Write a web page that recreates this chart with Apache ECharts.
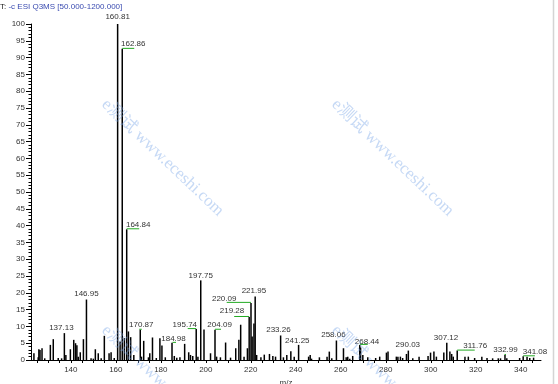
<!DOCTYPE html>
<html><head><meta charset="utf-8">
<script src="https://cdn.jsdelivr.net/npm/echarts@6/dist/echarts.min.js"></script>
<style>html,body{margin:0;padding:0;background:#fff}#c{width:558px;height:384px}</style>
</head><body><div id="c"></div>
<script>
// ---- data ----
const scanTitlePrefix = 'T:';
const scanTitle = '-c ESI Q3MS [50.000-1200.000]';
const xAxisName = 'm/z';
const yAxisName = 'Relative Abundance';
const xTickLabels = [140, 160, 180, 200, 220, 240, 260, 280, 300, 320, 340];
const yTickLabels = [0, 5, 10, 15, 20, 25, 30, 35, 40, 45, 50, 55, 60, 65, 70, 75, 80, 85, 90, 95, 100];

const minorMz = [123.6,125.5,125.8,126.3,127.2,128.4,130.9,132.2,134.4,135.9,137.8,139.8,141.3,142.1,142.7,143.3,144.2,145.6,149.0,150.0,150.9,152.2,153.5,154.9,157.0,157.9,159.3,161.9,163.8,165.6,166.6,168.0,171.4,172.4,174.5,175.1,176.3,178.0,179.6,180.5,182.0,186.0,187.1,188.5,190.6,192.4,193.2,194.2,196.5,199.2,202.1,204.8,206.5,208.8,211.0,213.3,214.7,215.5,217.0,218.5,220.6,221.4,222.6,224.5,226.0,228.3,229.8,231.0,234.5,236.0,237.8,239.3,245.7,246.4,247.0,250.5,253.9,254.9,256.0,261.2,262.4,263.1,264.0,265.3,268.8,269.8,272.0,275.5,277.3,280.3,281.0,284.7,285.4,286.5,287.5,289.2,292.0,294.8,298.8,299.9,301.4,302.5,305.8,308.5,309.3,310.0,315.2,316.7,319.5,322.7,325.0,327.5,330.0,331.0,333.8,339.5,342.8,344.0,345.7];
const minorAbundance = [2.0,0.8,3.2,3.0,3.5,0.5,4.5,6.2,0.6,0.5,1.5,3.2,6.0,5.0,4.4,1.0,2.3,6.2,0.5,0.4,3.2,2.0,0.5,7.2,2.0,2.3,0.6,5.5,6.5,8.5,6.8,1.5,1.0,5.7,0.8,2.0,6.7,0.6,6.5,4.3,0.8,1.2,0.7,0.8,4.8,2.3,1.5,1.2,1.0,9.1,2.0,1.0,0.8,5.2,0.7,3.5,6.0,10.5,1.0,3.5,7.0,10.9,1.5,0.8,1.6,1.8,1.2,1.0,0.8,1.5,2.6,1.0,1.0,1.5,0.4,0.8,1.0,2.5,0.5,3.5,0.8,1.0,0.4,1.2,3.7,1.5,0.8,0.6,1.0,2.2,2.5,1.0,1.0,1.0,0.6,1.8,0.5,1.0,1.2,2.2,2.5,1.0,2.2,2.5,1.8,1.0,1.0,1.0,0.6,1.0,0.6,0.5,0.5,0.5,0.5,0.6,1.0,0.6,0.7];

const labeledMz = [137.13,146.95,160.81,162.86,164.84,170.87,184.98,195.74,197.75,204.09,219.28,220.09,221.95,233.26,241.25,258.06,268.44,290.03,307.12,311.76,332.99,341.08];
const labeledAbundance = [8.0,18.0,100,92.6,38.9,9.0,5.1,9.2,23.7,9.0,12.8,17.0,18.9,7.3,4.5,5.8,4.5,2.8,5.1,2.8,1.5,1.1];

// ---- label placement (style only): [dx of label centre, height of label centre above peak top, leader start, leader end] in px
const labelPlacement = {
  '137.13':[-3,5.5,0,0], '146.95':[0,5.5,0,0], '160.81':[0,7.5,0,0], '162.86':[11,5,0,12],
  '164.84':[11.5,4.5,0,12.5], '170.87':[1,4.5,-1,1.5], '184.98':[1.5,4,0.5,4], '195.74':[-11.4,4.5,-8.5,0],
  '197.75':[0,4.7,0,0], '204.09':[4.6,4.5,0,6], '219.28':[-17.2,6,-15,0], '220.09':[-26.8,4,-24.3,0],
  '221.95':[-1.3,5.5,0,0], '233.26':[-2.2,5.8,0,0], '241.25':[-1.3,4.3,0,0], '258.06':[-3,5.3,0,0],
  '268.44':[7.2,3.5,0,8], '290.03':[-0.5,5.5,0,0], '307.12':[-0.8,5.5,0,0], '311.76':[18,5,0,17.5],
  '332.99':[0.5,5,-0.5,1], '341.08':[11.8,4.3,0,11.7]
};

const minorTickValues = [];
for (let t = 125; t <= 345; t += 5) minorTickValues.push(t);

const peaks = minorMz.map((m, i) => [m, minorAbundance[i]])
  .concat(labeledMz.map((m, i) => [m, labeledAbundance[i]]));

const FONT = '"Liberation Sans", Arial, sans-serif';
const chart = echarts.init(document.getElementById('c'), null, {renderer: 'canvas'});
const wmOrigins = [[104,102],[334,102],[104,328],[334,328]];

chart.setOption({
  animation: false,
  title: {
    text: '{a|' + scanTitlePrefix + ' }{b|' + scanTitle + '}',
    left: 0, top: 1, padding: 0,
    textStyle: {
      fontWeight: 'normal', fontSize: 8, lineHeight: 11,
      rich: {
        a: {fontFamily: FONT, fontSize: 8, fontWeight: 'normal', color: '#222', lineHeight: 11},
        b: {fontFamily: FONT, fontSize: 8, fontWeight: 'normal', color: '#3a4bb0', lineHeight: 11}
      }
    }
  },
  grid: {left: 31, right: 17, top: 24, bottom: 24, outerBoundsMode: 'none', containLabel: false},
  xAxis: {
    type: 'value', min: 122.3, max: 349,
    name: xAxisName, nameLocation: 'middle', nameGap: 15,
    nameTextStyle: {fontFamily: FONT, fontSize: 8, color: '#333'},
    axisLine: {lineStyle: {color: '#000', width: 1}},
    axisTick: {show: true, length: 3, customValues: minorTickValues, lineStyle: {color: '#000'}},
    axisLabel: {customValues: xTickLabels, margin: 6, fontFamily: FONT, fontSize: 8, color: '#333'},
    splitLine: {show: false}
  },
  yAxis: {
    type: 'value', min: 0, max: 100, interval: 5,
    name: yAxisName, nameLocation: 'middle', nameGap: 23,
    nameTextStyle: {fontFamily: FONT, fontSize: 9, color: '#444'},
    axisLine: {show: true, lineStyle: {color: '#000', width: 1}},
    axisTick: {show: true, length: 5, lineStyle: {color: '#000'}},
    minorTick: {show: true, splitNumber: 5, length: 2.5, lineStyle: {color: '#000'}},
    axisLabel: {margin: 6, fontFamily: FONT, fontSize: 8, color: '#333',
      formatter: v => yTickLabels.indexOf(v) >= 0 ? String(v) : ''},
    splitLine: {show: false}
  },
  series: [
    {
      type: 'bar', data: peaks, barWidth: 1.5,
      itemStyle: {color: '#000'}, silent: true
    },
    {
      type: 'custom', clip: false, silent: true, z: 5,
      data: labeledMz.map((m, i) => [m, labeledAbundance[i]]),
      encode: {x: 0, y: 1},
      renderItem: function (params, api) {
        const m = api.value(0), v = api.value(1);
        const p = api.coord([m, v]);
        const key = m.toFixed(2);
        const L = labelPlacement[key] || [0, 5, 0, 0];
        const children = [{
          type: 'text',
          style: {text: key, x: p[0] + L[0], y: p[1] - L[1], align: 'center', verticalAlign: 'middle',
            font: '8px ' + FONT, fill: '#333'}
        }];
        if (L[3] !== L[2]) {
          children.push({type: 'line',
            shape: {x1: p[0] + L[2], y1: p[1] - 0.5, x2: p[0] + L[3], y2: p[1] - 0.5},
            style: {stroke: '#22aa22', lineWidth: 1}});
        }
        return {type: 'group', children: children};
      }
    }
  ],
  graphic: [
    {type: 'line', shape: {x1: 553.5, y1: 0, x2: 553.5, y2: 384}, style: {stroke: '#d4d4d4', lineWidth: 1.5}, silent: true}
  ].concat(wmOrigins.map(o => ({
    type: 'text', x: o[0], y: o[1], rotation: -0.76, z: 100, silent: true,
    style: {text: 'e测试 www.eceshi.com', font: '17px "Liberation Serif", "Noto Sans CJK SC", serif',
      fill: 'rgba(120,165,230,0.42)', verticalAlign: 'middle', align: 'left'}
  })))
});
</script>
</body></html>
